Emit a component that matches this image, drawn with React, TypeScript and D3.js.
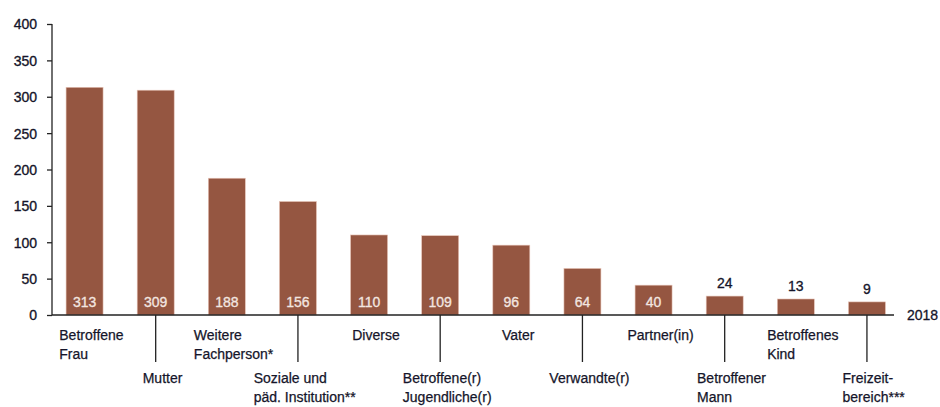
import React, { useEffect, useRef } from "react";
import * as d3 from "d3";

const width = 940
const height = 407
const margin = { top: 24, right: 38, bottom: 92, left: 52 }

// categories, top row / bottom row alternate
const categories = [
    ["Betroffene", "Frau"],
    ["Mutter"],
    ["Weitere", "Fachperson*"],
    ["Soziale und", "päd. Institution**"],
    ["Diverse"],
    ["Betroffene(r)", "Jugendliche(r)"],
    ["Vater"],
    ["Verwandte(r)"],
    ["Partner(in)"],
    ["Betroffener", "Mann"],
    ["Betroffenes", "Kind"],
    ["Freizeit-", "bereich***"],
]
// printed counts
const counts = [313, 309, 188, 156, 110, 109, 96, 64, 40, 24, 13, 9]
// bar lengths as drawn in the picture (small bars are drawn a bit taller than their counts)
const barLengths = [313, 309, 188, 156, 110, 109, 96, 64, 41, 26, 22, 18]
const yTicks = [0, 50, 100, 150, 200, 250, 300, 350, 400]
const yearLabel = "2018"

const barColor = "#955641"
const textColor = "#15152a"
const font = "'Liberation Sans', Arial, sans-serif"

export default function App() {
    const ref = useRef<SVGSVGElement>(null)

    useEffect(() => {
        const svg = d3.select(ref.current)
        svg.selectAll("*").remove()

        const x0 = 49
        const x1 = 902.5
        const y0 = height - margin.bottom
        const x = d3.scaleBand<number>()
            .domain(d3.range(categories.length))
            .range([x0, x1])
            .paddingInner(0.48)
            .paddingOuter(0.24)

        const y = d3.scaleLinear()
            .domain([0, 400])
            .range([y0, margin.top])

        const g = svg.append("g")
            .attr("font-family", font)
            .attr("font-size", 14)
            .attr("fill", textColor)

        // bars
        g.append("g").selectAll("rect")
            .data(barLengths)
            .join("rect")
            .attr("x", (_, i) => x(i)!)
            .attr("width", x.bandwidth())
            .attr("y", d => y(d))
            .attr("height", d => y0 - y(d))
            .attr("fill", barColor)
            .attr("stroke", "#e6c3b6")
            .attr("stroke-width", 0.6)

        // value labels
        g.append("g").selectAll("text")
            .data(counts)
            .join("text")
            .attr("x", (_, i) => x(i)! + x.bandwidth() / 2)
            .attr("y", (d, i) => d >= 30 ? y0 - 8 : y(barLengths[i]) - 8)
            .attr("text-anchor", "middle")
            .attr("fill", d => d >= 30 ? "#f3e6e0" : textColor)
            .attr("stroke", d => d >= 30 ? "#f3e6e0" : textColor)
            .attr("stroke-width", 0.3)
            .text(d => d)

        // y axis
        const yAxis = d3.axisLeft(y).tickValues(yTicks).tickSize(5).tickPadding(10)
        const ya = g.append("g")
            .attr("transform", `translate(${margin.left},0)`)
            .call(yAxis)
        ya.select(".domain").attr("stroke", "#222").attr("stroke-width", 1.3)
            .attr("d", `M0,${y0}V${margin.top}`)
        ya.selectAll(".tick line").attr("stroke", "#222").attr("stroke-width", 1.3)
        ya.selectAll(".tick text")
            .attr("font-family", font)
            .attr("font-size", 14)
            .attr("fill", textColor)
            .attr("stroke", textColor)
            .attr("stroke-width", 0.35)
            .attr("dy", "0.35em")

        // x axis baseline
        g.append("line")
            .attr("x1", margin.left)
            .attr("x2", 894)
            .attr("y1", y0)
            .attr("y2", y0)
            .attr("stroke", "#222")
            .attr("stroke-width", 1.3)

        g.append("text")
            .attr("x", 907)
            .attr("y", y0)
            .attr("dy", "0.35em")
            .attr("stroke", textColor)
            .attr("stroke-width", 0.3)
            .text(yearLabel)

        // long ticks for lower-row labels
        g.append("g").selectAll("line")
            .data(categories.map((_, i) => i).filter(i => i % 2 === 1))
            .join("line")
            .attr("x1", i => x(i)! + x.bandwidth() / 2)
            .attr("x2", i => x(i)! + x.bandwidth() / 2)
            .attr("y1", y0)
            .attr("y2", y0 + 47)
            .attr("stroke", "#222")
            .attr("stroke-width", 1.3)

        // category labels, lines left-aligned, block centred under bar
        const labels = g.append("g").selectAll("text")
            .data(categories)
            .join("text")
            .attr("text-anchor", "start")
            .attr("stroke", textColor)
            .attr("stroke-width", 0.25)

        labels.each(function (lines, i) {
            const t = d3.select(this)
            const top = i % 2 === 0 ? y0 + 25 : y0 + 68
            lines.forEach((line, k) => {
                t.append("tspan")
                    .attr("x", 0)
                    .attr("y", top + k * 19)
                    .text(line)
            })
            const w = (this as SVGTextElement).getBBox().width
            const cx = x(i)! + x.bandwidth() / 2 + 7
            t.attr("transform", `translate(${cx - w / 2},0)`)
        })
    }, [])

    return (
        <svg ref={ref} width={width} height={height}
             style={{ position: "absolute", left: 0, top: 0, background: "#fff" }} />
    )
}
